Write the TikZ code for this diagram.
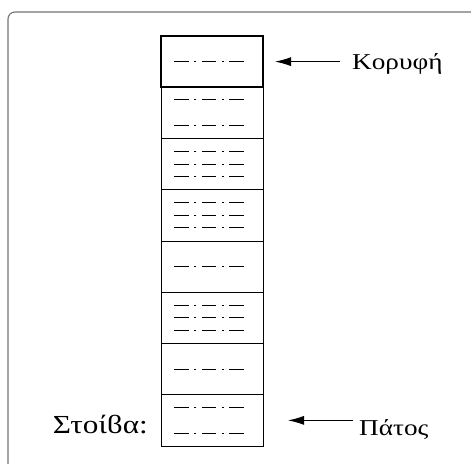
\documentclass[tikz,border=0pt]{standalone}
\usepackage{fontspec}
\setmainfont{Liberation Serif}[FakeStretch=1.2]
\usetikzlibrary{arrows.meta,calc}
\begin{document}
\begin{tikzpicture}[x=1pt,y=-1pt,
  cell/.style={draw,line width=0.8pt,minimum width=102pt,minimum height=51.25pt,inner sep=0pt,outer sep=0pt},
  topcell/.style={cell,line width=1.8pt},
  dd/.style={line width=1.2pt,dash pattern=on 14.5pt off 5.5pt on 2pt off 5.5pt},
  arr/.style={line width=0.9pt,-{Latex[length=16pt,width=9pt]}},
  lbl/.style={inner sep=0pt,font=\fontsize{22.7}{27}\selectfont},
  biglbl/.style={inner sep=0pt,font=\fontsize{26}{30}\selectfont},
  frame/.style={draw=black!55,line width=1.1pt,rounded corners=7pt}]
\useasboundingbox (0,0) rectangle (471,463);
\begin{scope}
  \clip (0,0) rectangle (471,463);
  \draw[frame] (8,12) rectangle (520,520);
\end{scope}
% stack cells, top to bottom
\foreach \i in {2,...,8}
  \node[cell] (c\i) at (212,{36+51.25*(\i-0.5)}) {};
\node[topcell] (c1) at (212,{36+51.25*0.5}) {};
% dash-dot entries inside each cell
\newcommand\entry[2]{\draw[dd] ($(#1)+(-38,#2)$) -- ++(69.5,0);}
\entry{c1}{0}
\entry{c2}{-13}\entry{c2}{13}
\entry{c3}{-12.5}\entry{c3}{0}\entry{c3}{12.5}
\entry{c4}{-12.5}\entry{c4}{0}\entry{c4}{12.5}
\entry{c5}{0}
\entry{c6}{-12.5}\entry{c6}{0}\entry{c6}{12.5}
\entry{c7}{0}
\entry{c8}{-13}\entry{c8}{13}
% labels and pointers
\node[lbl,anchor=base west] (top) at (352,69) {Κορυφή};
\node[lbl,anchor=base west] (bottom) at (359,435) {Πάτος};
\node[biglbl,anchor=base east] (stack) at (148,433) {Στοίϐα:};
\draw[arr] ([xshift=-12pt]top.west |- c1.east) -- ([xshift=12pt]c1.east);
\draw[arr] ([xshift=-6pt]bottom.west |- c8.east) -- ([xshift=25pt]c8.east);
\end{tikzpicture}
\end{document}
